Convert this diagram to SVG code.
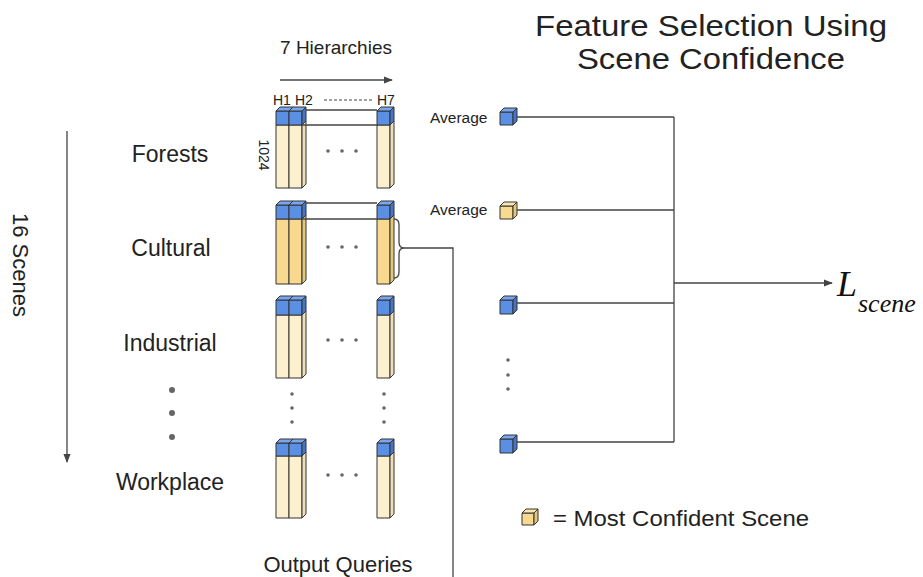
<svg xmlns="http://www.w3.org/2000/svg" width="923" height="577" viewBox="0 0 923 577">
  <defs>
    <style>
      .txt { font-family: "Liberation Sans", Arial, sans-serif; fill: #222; }
      .lbl { font-size: 23px; text-anchor: middle; }
      .small { font-size: 14px; }
      .avg { font-size: 15.5px; }
      .ln { fill: none; stroke: #444; stroke-width: 1.3; }
      .edge { stroke: #333; stroke-width: 1; stroke-linejoin: round; }
      .blue { fill: #5b8fe3; }
      .blueTop { fill: #7aa6ee; }
      .blueSide { fill: #4676c8; }
      .pale { fill: #fdf0cf; }
      .paleSide { fill: #eedfb8; }
      .gold { fill: #f8d98f; }
      .goldTop { fill: #fbe6ad; }
      .goldSide { fill: #e6c677; }
      .dot { fill: #666; }
      .serif { font-family: "Liberation Serif", "Times New Roman", serif; font-style: italic; fill: #111; }
    </style>
    <marker id="arrow" viewBox="0 0 10 10" refX="9" refY="5" markerWidth="7" markerHeight="7" orient="auto">
      <path d="M0,1 L10,5 L0,9 Z" fill="#444"/>
    </marker>
  </defs>

  <rect width="923" height="577" fill="#ffffff"/>

  <!-- headings and axis labels -->
  <g id="title">
    <text class="txt" x="711" y="36" font-size="30" text-anchor="middle" textLength="352" lengthAdjust="spacingAndGlyphs">Feature Selection Using</text>
    <text class="txt" x="711" y="69" font-size="30" text-anchor="middle" textLength="268" lengthAdjust="spacingAndGlyphs">Scene Confidence</text>
  </g>

  <g id="hierarchy-axis">
    <text class="txt" x="336" y="54" font-size="19" text-anchor="middle">7 Hierarchies</text>
    <line class="ln" x1="280" y1="80" x2="392" y2="80" marker-end="url(#arrow)"/>
    <text class="txt small" x="273" y="105">H1</text>
    <text class="txt small" x="295" y="105">H2</text>
    <line x1="324" y1="100" x2="374" y2="100" stroke="#444" stroke-width="1" stroke-dasharray="3,2"/>
    <text class="txt small" x="377" y="105">H7</text>
    <text class="txt small" transform="translate(259,155) rotate(90)" text-anchor="middle">1024</text>
  </g>

  <g id="scene-axis">
    <text class="txt" font-size="22" transform="translate(13,265) rotate(90)" text-anchor="middle">16 Scenes</text>
    <line class="ln" x1="67" y1="131" x2="67" y2="462" marker-end="url(#arrow)"/>
  </g>

  <!-- scene labels -->
  <g id="scene-labels">
    <text class="txt lbl" x="170" y="162">Forests</text>
    <text class="txt lbl" x="171" y="256">Cultural</text>
    <text class="txt lbl" x="170" y="351">Industrial</text>
    <text class="txt lbl" x="170" y="490">Workplace</text>
    <circle class="dot" cx="172" cy="390" r="3"/>
    <circle class="dot" cx="172" cy="413" r="3"/>
    <circle class="dot" cx="172" cy="437" r="3"/>
  </g>

  <!-- Forests queries -->
  <g id="forests">
    <g class="edge">
      <rect class="pale" x="276" y="125" width="13" height="63"/>
      <rect class="blue" x="276" y="111" width="13" height="14"/>
      <path class="blueTop" d="M276,111 L280,107 L293,107 L289,111 Z"/>
      <rect class="pale" x="289" y="125" width="13" height="63"/>
      <rect class="blue" x="289" y="111" width="13" height="14"/>
      <path class="blueTop" d="M289,111 L293,107 L306,107 L302,111 Z"/>
      <path class="blueSide" d="M302,111 L306,107 L306,121 L302,125 Z"/>
      <path class="paleSide" d="M302,125 L306,121 L306,184 L302,188 Z"/>
      <rect class="pale" x="377" y="125" width="13" height="63"/>
      <rect class="blue" x="377" y="111" width="13" height="14"/>
      <path class="blueTop" d="M377,111 L381,107 L394,107 L390,111 Z"/>
      <path class="blueSide" d="M390,111 L394,107 L394,121 L390,125 Z"/>
      <path class="paleSide" d="M390,125 L394,121 L394,184 L390,188 Z"/>
    </g>
    <path class="ln" d="M306,110 L377,110 M302,125 L377,125"/>
    <circle class="dot" cx="328" cy="151" r="1.8"/>
    <circle class="dot" cx="342" cy="151" r="1.8"/>
    <circle class="dot" cx="356" cy="151" r="1.8"/>
  </g>

  <!-- Cultural queries (most confident scene) -->
  <g id="cultural">
    <g class="edge">
      <rect class="gold" x="276" y="219" width="13" height="65"/>
      <rect class="blue" x="276" y="205" width="13" height="14"/>
      <path class="blueTop" d="M276,205 L280,201 L293,201 L289,205 Z"/>
      <rect class="gold" x="289" y="219" width="13" height="65"/>
      <rect class="blue" x="289" y="205" width="13" height="14"/>
      <path class="blueTop" d="M289,205 L293,201 L306,201 L302,205 Z"/>
      <path class="blueSide" d="M302,205 L306,201 L306,215 L302,219 Z"/>
      <path class="goldSide" d="M302,219 L306,215 L306,280 L302,284 Z"/>
      <rect class="gold" x="377" y="219" width="13" height="65"/>
      <rect class="blue" x="377" y="205" width="13" height="14"/>
      <path class="blueTop" d="M377,205 L381,201 L394,201 L390,205 Z"/>
      <path class="blueSide" d="M390,205 L394,201 L394,215 L390,219 Z"/>
      <path class="goldSide" d="M390,219 L394,215 L394,280 L390,284 Z"/>
    </g>
    <path class="ln" d="M306,203 L377,203 M302,219 L377,219"/>
    <path class="ln" d="M394,219 Q399,219 399,225 L399,242 Q399,248 404,248 Q399,248 399,254 L399,272 Q399,278 394,278"/>
    <circle class="dot" cx="328" cy="247" r="1.8"/>
    <circle class="dot" cx="342" cy="247" r="1.8"/>
    <circle class="dot" cx="356" cy="247" r="1.8"/>
  </g>

  <!-- Industrial queries -->
  <g id="industrial">
    <g class="edge">
      <rect class="pale" x="276" y="315" width="13" height="63"/>
      <rect class="blue" x="276" y="300" width="13" height="15"/>
      <path class="blueTop" d="M276,300 L280,296 L293,296 L289,300 Z"/>
      <rect class="pale" x="289" y="315" width="13" height="63"/>
      <rect class="blue" x="289" y="300" width="13" height="15"/>
      <path class="blueTop" d="M289,300 L293,296 L306,296 L302,300 Z"/>
      <path class="blueSide" d="M302,300 L306,296 L306,311 L302,315 Z"/>
      <path class="paleSide" d="M302,315 L306,311 L306,374 L302,378 Z"/>
      <rect class="pale" x="377" y="315" width="13" height="63"/>
      <rect class="blue" x="377" y="300" width="13" height="15"/>
      <path class="blueTop" d="M377,300 L381,296 L394,296 L390,300 Z"/>
      <path class="blueSide" d="M390,300 L394,296 L394,311 L390,315 Z"/>
      <path class="paleSide" d="M390,315 L394,311 L394,374 L390,378 Z"/>
    </g>
    <circle class="dot" cx="328" cy="340" r="1.8"/>
    <circle class="dot" cx="342" cy="340" r="1.8"/>
    <circle class="dot" cx="356" cy="340" r="1.8"/>
  </g>

  <!-- elided scenes between Industrial and Workplace -->
  <g id="elided-scenes">
    <circle class="dot" cx="292" cy="394" r="1.8"/>
    <circle class="dot" cx="292" cy="408" r="1.8"/>
    <circle class="dot" cx="292" cy="422" r="1.8"/>
    <circle class="dot" cx="384" cy="394" r="1.8"/>
    <circle class="dot" cx="384" cy="408" r="1.8"/>
    <circle class="dot" cx="384" cy="422" r="1.8"/>
  </g>

  <!-- Workplace queries -->
  <g id="workplace">
    <g class="edge">
      <rect class="pale" x="276" y="456" width="13" height="62"/>
      <rect class="blue" x="276" y="443" width="13" height="13"/>
      <path class="blueTop" d="M276,443 L280,439 L293,439 L289,443 Z"/>
      <rect class="pale" x="289" y="456" width="13" height="62"/>
      <rect class="blue" x="289" y="443" width="13" height="13"/>
      <path class="blueTop" d="M289,443 L293,439 L306,439 L302,443 Z"/>
      <path class="blueSide" d="M302,443 L306,439 L306,452 L302,456 Z"/>
      <path class="paleSide" d="M302,456 L306,452 L306,514 L302,518 Z"/>
      <rect class="pale" x="377" y="456" width="13" height="62"/>
      <rect class="blue" x="377" y="443" width="13" height="13"/>
      <path class="blueTop" d="M377,443 L381,439 L394,439 L390,443 Z"/>
      <path class="blueSide" d="M390,443 L394,439 L394,452 L390,456 Z"/>
      <path class="paleSide" d="M390,456 L394,452 L394,514 L390,518 Z"/>
    </g>
    <circle class="dot" cx="328" cy="475" r="1.8"/>
    <circle class="dot" cx="342" cy="475" r="1.8"/>
    <circle class="dot" cx="356" cy="475" r="1.8"/>
  </g>

  <text id="output-queries" class="txt" x="338" y="572" font-size="22" text-anchor="middle">Output Queries</text>

  <!-- averaged scene features -->
  <g id="avg-forests">
    <text class="txt avg" x="430" y="123">Average</text>
    <g class="edge">
      <rect class="blue" x="500" y="112" width="13" height="13"/>
      <path class="blueTop" d="M500,112 L504,108 L517,108 L513,112 Z"/>
      <path class="blueSide" d="M513,112 L517,108 L517,121 L513,125 Z"/>
    </g>
  </g>
  <g id="avg-cultural">
    <text class="txt avg" x="430" y="215">Average</text>
    <g class="edge">
      <rect class="gold" x="500" y="206" width="13" height="13"/>
      <path class="goldTop" d="M500,206 L504,202 L517,202 L513,206 Z"/>
      <path class="goldSide" d="M513,206 L517,202 L517,215 L513,219 Z"/>
    </g>
  </g>
  <g id="avg-industrial" class="edge">
    <rect class="blue" x="500" y="300" width="13" height="14"/>
    <path class="blueTop" d="M500,300 L504,296 L517,296 L513,300 Z"/>
    <path class="blueSide" d="M513,300 L517,296 L517,310 L513,314 Z"/>
  </g>
  <g id="avg-elided">
    <circle class="dot" cx="508" cy="360" r="1.8"/>
    <circle class="dot" cx="508" cy="375" r="1.8"/>
    <circle class="dot" cx="508" cy="389" r="1.8"/>
  </g>
  <g id="avg-workplace" class="edge">
    <rect class="blue" x="500" y="439" width="13" height="14"/>
    <path class="blueTop" d="M500,439 L504,435 L517,435 L513,439 Z"/>
    <path class="blueSide" d="M513,439 L517,435 L517,449 L513,453 Z"/>
  </g>

  <!-- loss output -->
  <g id="loss">
    <text class="serif" x="837" y="296" font-size="36">L</text>
    <text class="serif" x="858" y="312" font-size="26">scene</text>
  </g>

  <!-- legend -->
  <g id="legend">
    <g class="edge">
      <rect class="gold" x="522" y="513" width="12" height="12"/>
      <path class="goldTop" d="M522,513 L526,509 L538,509 L534,513 Z"/>
      <path class="goldSide" d="M534,513 L538,509 L538,521 L534,525 Z"/>
    </g>
    <text class="txt" x="553" y="526" font-size="22" textLength="256" lengthAdjust="spacingAndGlyphs">= Most Confident Scene</text>
  </g>

  <!-- connectors -->
  <g id="connectors">
    <path class="ln" d="M404,248 L453,248 L453,577"/>
    <path class="ln" d="M517,117 L674,117 M517,210 L674,210 M517,303 L674,303 M517,442 L674,442 M674,117 L674,442"/>
    <line class="ln" x1="674" y1="283" x2="832" y2="283" marker-end="url(#arrow)"/>
  </g>
</svg>
